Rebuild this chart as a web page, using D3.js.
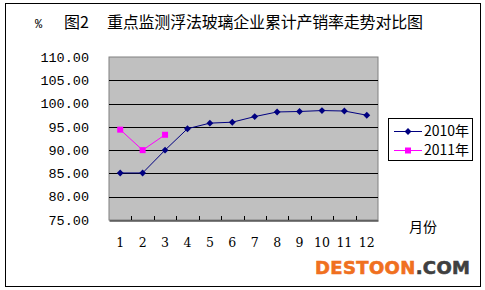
<!DOCTYPE html>
<html>
<head>
<meta charset="utf-8">
<script src="https://cdn.jsdelivr.net/npm/d3@7"></script>
<style>
  body { margin: 0; background: #fff; }
  svg text { fill: #000; }
</style>
</head>
<body>
<svg id="chart" width="485" height="290"></svg>
<script>
// chart data
var months = ['1','2','3','4','5','6','7','8','9','10','11','12'];
var sales2010 = [85.1, 85.1, 90.0, 94.6, 95.8, 96.0, 97.2, 98.2, 98.3, 98.5, 98.4, 97.5];
var sales2011 = [94.4, 90.0, 93.3];
var yTicks = [75, 80, 85, 90, 95, 100, 105, 110];
var seriesNames = ['2010年', '2011年'];

var svg = d3.select('#chart');
var numFont = '"Liberation Mono", monospace';
var cjkFont = '"Noto Sans CJK SC", sans-serif';

// outer frame
svg.append('rect')
  .attr('x', 5.5).attr('y', 3.5)
  .attr('width', 475).attr('height', 283)
  .attr('fill', '#fff').attr('stroke', '#000');

var plot = { left: 109, top: 57, right: 378, bottom: 220 };

var x = d3.scaleBand().domain(months).range([plot.left, plot.right]);
var y = d3.scaleLinear().domain([75, 110]).range([plot.bottom, plot.top]);

// plot area
svg.append('rect')
  .attr('x', plot.left).attr('y', plot.top)
  .attr('width', plot.right - plot.left).attr('height', plot.bottom - plot.top)
  .attr('fill', '#c0c0c0').attr('stroke', '#808080');

// gridlines
svg.append('g').selectAll('line')
  .data(yTicks.slice(1, -1))
  .enter().append('line')
  .attr('x1', plot.left).attr('x2', plot.right)
  .attr('y1', function(d) { return Math.round(y(d)) + 0.5; })
  .attr('y2', function(d) { return Math.round(y(d)) + 0.5; })
  .attr('stroke', '#000');

// y labels
svg.append('g').selectAll('text')
  .data(yTicks)
  .enter().append('text')
  .attr('x', 89).attr('y', function(d) { return y(d); })
  .attr('dy', '0.35em')
  .attr('text-anchor', 'end')
  .style('font-family', numFont).style('font-size', '13.5px')
  .text(function(d) { return d3.format('.2f')(d); });

// x axis with inner ticks
var xAxis = d3.axisBottom(x).tickSize(0).tickFormat('');
svg.append('g')
  .attr('transform', 'translate(0,' + (plot.bottom + 0.5) + ')')
  .call(xAxis)
  .call(function(g) { g.select('.domain').attr('stroke', '#000'); });

svg.append('g').selectAll('line')
  .data(months.slice(1))
  .enter().append('line')
  .attr('x1', function(d) { return Math.round(x(d)) + 0.5; })
  .attr('x2', function(d) { return Math.round(x(d)) + 0.5; })
  .attr('y1', plot.bottom).attr('y2', plot.bottom - 4)
  .attr('stroke', '#000');

svg.append('g').selectAll('text')
  .data(months)
  .enter().append('text')
  .attr('x', function(d) { return x(d) + x.bandwidth() / 2; })
  .attr('y', 247)
  .attr('text-anchor', 'middle')
  .style('font-family', '"DejaVu Serif", serif').style('font-size', '12.5px')
  .text(function(d) { return d; });

function cx(d, i) { return x(months[i]) + x.bandwidth() / 2; }
var line = d3.line().x(cx).y(function(d) { return y(d); });

// 2010 series
svg.append('path').datum(sales2010)
  .attr('d', line).attr('fill', 'none')
  .attr('stroke', '#000080').attr('stroke-width', 1);
svg.append('g').selectAll('path')
  .data(sales2010)
  .enter().append('path')
  .attr('transform', function(d, i) { return 'translate(' + cx(d, i) + ',' + y(d) + ')'; })
  .attr('d', d3.symbol().type(d3.symbolDiamond2).size(30))
  .attr('fill', '#000080');

// 2011 series
svg.append('path').datum(sales2011)
  .attr('d', line).attr('fill', 'none')
  .attr('stroke', '#ff00ff').attr('stroke-width', 1);
svg.append('g').selectAll('rect')
  .data(sales2011)
  .enter().append('rect')
  .attr('x', function(d, i) { return cx(d, i) - 3; })
  .attr('y', function(d) { return y(d) - 3; })
  .attr('width', 6).attr('height', 6)
  .attr('fill', '#ff00ff');

// title
svg.append('text')
  .attr('x', 35).attr('y', 28)
  .style('font-family', numFont).style('font-size', '12px')
  .text('%');
svg.append('text')
  .attr('x', 64).attr('y', 28)
  .style('font-family', cjkFont).style('font-size', '16px')
  .text('图2');
svg.append('text')
  .attr('x', 107).attr('y', 28)
  .attr('textLength', 316)
  .style('font-family', cjkFont).style('font-size', '16px')
  .text('重点监测浮法玻璃企业累计产销率走势对比图');

// legend
var legend = svg.append('g');
legend.append('rect')
  .attr('x', 388.5).attr('y', 118.5)
  .attr('width', 84).attr('height', 42)
  .attr('fill', '#fff').attr('stroke', '#000');
var colors = ['#000080', '#ff00ff'];
seriesNames.forEach(function(name, i) {
  var ly = 131 + i * 19;
  legend.append('line')
    .attr('x1', 394).attr('x2', 422)
    .attr('y1', ly + 0.5).attr('y2', ly + 0.5)
    .attr('stroke', colors[i]);
  if (i === 0) {
    legend.append('path')
      .attr('transform', 'translate(408,' + (ly + 0.5) + ')')
      .attr('d', d3.symbol().type(d3.symbolDiamond2).size(30))
      .attr('fill', colors[i]);
  } else {
    legend.append('rect')
      .attr('x', 405).attr('y', ly - 2.5)
      .attr('width', 6).attr('height', 6)
      .attr('fill', colors[i]);
  }
  legend.append('text')
    .attr('x', 424).attr('y', ly + 5)
    .style('font-family', cjkFont).style('font-size', '14px')
    .text(name);
});

// axis title
svg.append('text')
  .attr('x', 423).attr('y', 232)
  .attr('text-anchor', 'middle')
  .style('font-family', cjkFont).style('font-size', '14px')
  .text('月份');

// watermark
var wm = svg.append('text')
  .attr('x', 315).attr('y', 274)
  .attr('textLength', 155)
  .style('font-family', '"DejaVu Sans", sans-serif')
  .style('font-weight', 'bold').style('font-size', '18px')
  .style('stroke-width', '0.6px');
wm.append('tspan').style('fill', '#f07020').style('stroke', '#f07020').text('DESTOON');
wm.append('tspan').style('fill', '#404040').style('stroke', '#404040').text('.COM');
</script>
</body>
</html>
